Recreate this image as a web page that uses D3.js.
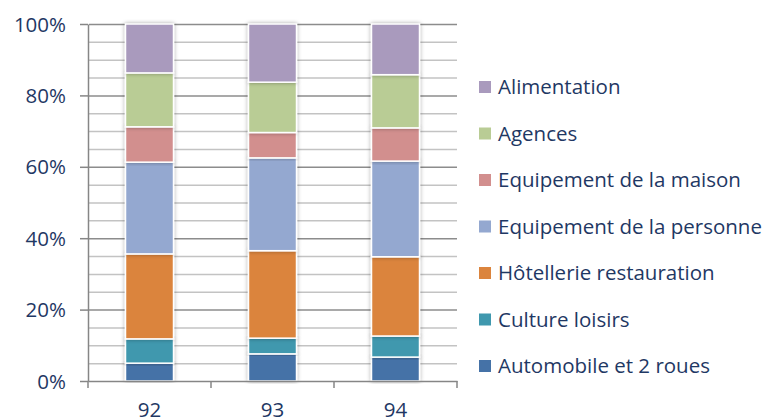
<!DOCTYPE html>
<html><head><meta charset="utf-8">
<script src="https://cdn.jsdelivr.net/npm/d3@7"></script>
<style>body{margin:0;background:#fff}svg{display:block}</style>
</head><body>
<svg id="c" width="768" height="418"></svg>
<script>
const categories = ["92", "93", "94"];
const seriesNames = ["Automobile et 2 roues", "Culture loisirs", "Hôtellerie restauration", "Equipement de la personne", "Equipement de la maison", "Agences", "Alimentation"];
const automobile = [5.0, 7.6, 6.7];
const culture = [6.8, 4.4, 5.9];
const hotellerie = [23.8, 24.5, 22.2];
const personne = [25.7, 26.0, 26.8];
const maison = [9.9, 7.1, 9.3];
const agences = [15.1, 14.1, 14.9];
const alimentation = [13.7, 16.3, 14.2];
const colors = ["#4572A7", "#3F98AE", "#DB843D", "#94A8D0", "#D28F8E", "#B9CC95", "#A99ABD"];
const yTicks = [0, 20, 40, 60, 80, 100];
const yTickLabels = ["0%", "20%", "40%", "60%", "80%", "100%"];

const seriesValues = [automobile, culture, hotellerie, personne, maison, agences, alimentation];
const rows = categories.map((c, i) => {
  const r = {cat: c};
  seriesNames.forEach((s, j) => r[s] = seriesValues[j][i]);
  return r;
});
const stackData = d3.stack().keys(seriesNames).offset(d3.stackOffsetExpand)(rows);

const svg = d3.select("#c");
const pL = 88, pR = 457, pT = 24, pB = 381;
const x = d3.scaleBand().domain(categories).range([pL, pR]).paddingInner(0.61).paddingOuter(0.305);
const y = d3.scaleLinear().domain([0, 1]).range([pB, pT]);
const textColor = "#1F3864";
const font = "'Open Sans', 'Noto Sans', sans-serif";
const fs = 20.5;

const defs = svg.append("defs");
const f = defs.append("filter").attr("id", "sh").attr("x", "-30%").attr("y", "-10%").attr("width", "160%").attr("height", "120%");
f.append("feGaussianBlur").attr("in", "SourceAlpha").attr("stdDeviation", 2).attr("result", "b");
f.append("feComponentTransfer").attr("in", "b").attr("result", "o2").append("feFuncA").attr("type", "linear").attr("slope", 0.35);
const m = f.append("feMerge");
m.append("feMergeNode").attr("in", "o2");
m.append("feMergeNode").attr("in", "SourceGraphic");

// gridlines
const minor = d3.range(0, 101, 5).filter(v => v % 20 !== 0 && v !== 0);
svg.append("g").selectAll("line").data(minor).join("line")
  .attr("x1", pL + 1).attr("x2", pR).attr("y1", d => y(d / 100) + 0.5).attr("y2", d => y(d / 100) + 0.5)
  .attr("stroke", "#C3C3C3").attr("stroke-width", 1.5);
svg.append("g").selectAll("line").data(yTicks.filter(v => v > 0)).join("line")
  .attr("x1", pL + 1).attr("x2", pR).attr("y1", d => y(d / 100) + 0.5).attr("y2", d => y(d / 100) + 0.5)
  .attr("stroke", "#8C8C8C").attr("stroke-width", 1.5);

// y axis
const yAxis = d3.axisLeft(y).tickValues(yTicks.map(v => v / 100)).tickFormat((d, i) => yTickLabels[i]).tickSizeInner(8).tickSizeOuter(0).tickPadding(14);
const ga = svg.append("g").attr("transform", `translate(${pL},0)`).call(yAxis);
ga.select(".domain").attr("stroke", "#868686").attr("stroke-width", 1.5);
ga.selectAll(".tick line").attr("stroke", "#868686").attr("stroke-width", 1.5);
ga.selectAll(".tick text").attr("fill", textColor).attr("font-family", font).attr("font-size", fs).attr("dy", "0.35em");

// bars
const g = svg.append("g");
const bw = 48;
stackData.forEach((layer, j) => {
  layer.forEach((d, i) => {
    const cx = x(categories[i]) + x.bandwidth() / 2;
    g.append("rect")
      .attr("x", cx - bw / 2).attr("width", bw)
      .attr("y", y(d[1])).attr("height", y(d[0]) - y(d[1]))
      .attr("fill", colors[j]).attr("stroke", "#fff").attr("stroke-width", 1.5)
      .attr("filter", "url(#sh)");
  });
});

// x axis
const xAxis = d3.axisBottom(x).tickSize(0).tickPadding(21);
const gx = svg.append("g").attr("transform", `translate(0,${pB})`).call(xAxis);
gx.select(".domain").attr("stroke", "#868686").attr("stroke-width", 1.5);
gx.selectAll(".tick text").attr("fill", textColor).attr("font-family", font).attr("font-size", fs);
const bounds = [pL, x(categories[1]) - x.step() * x.paddingInner() / 2, x(categories[2]) - x.step() * x.paddingInner() / 2, pR];
svg.append("g").selectAll("line").data(bounds).join("line")
  .attr("x1", d => d).attr("x2", d => d).attr("y1", pB).attr("y2", pB + 7)
  .attr("stroke", "#868686").attr("stroke-width", 1.5);

// legend
const legendOrder = seriesNames.map((s, j) => j).reverse();
const lg = svg.append("g");
const ly = d3.scalePoint().domain(legendOrder).range([87, 366]);
legendOrder.forEach(j => {
  lg.append("rect").attr("x", 479).attr("y", ly(j) - 6).attr("width", 12).attr("height", 12).attr("fill", colors[j]);
  lg.append("text").attr("x", 498).attr("y", ly(j)).attr("dy", "0.35em")
    .attr("fill", textColor).attr("font-family", font).attr("font-size", fs).text(seriesNames[j]);
});
</script>
</body></html>
